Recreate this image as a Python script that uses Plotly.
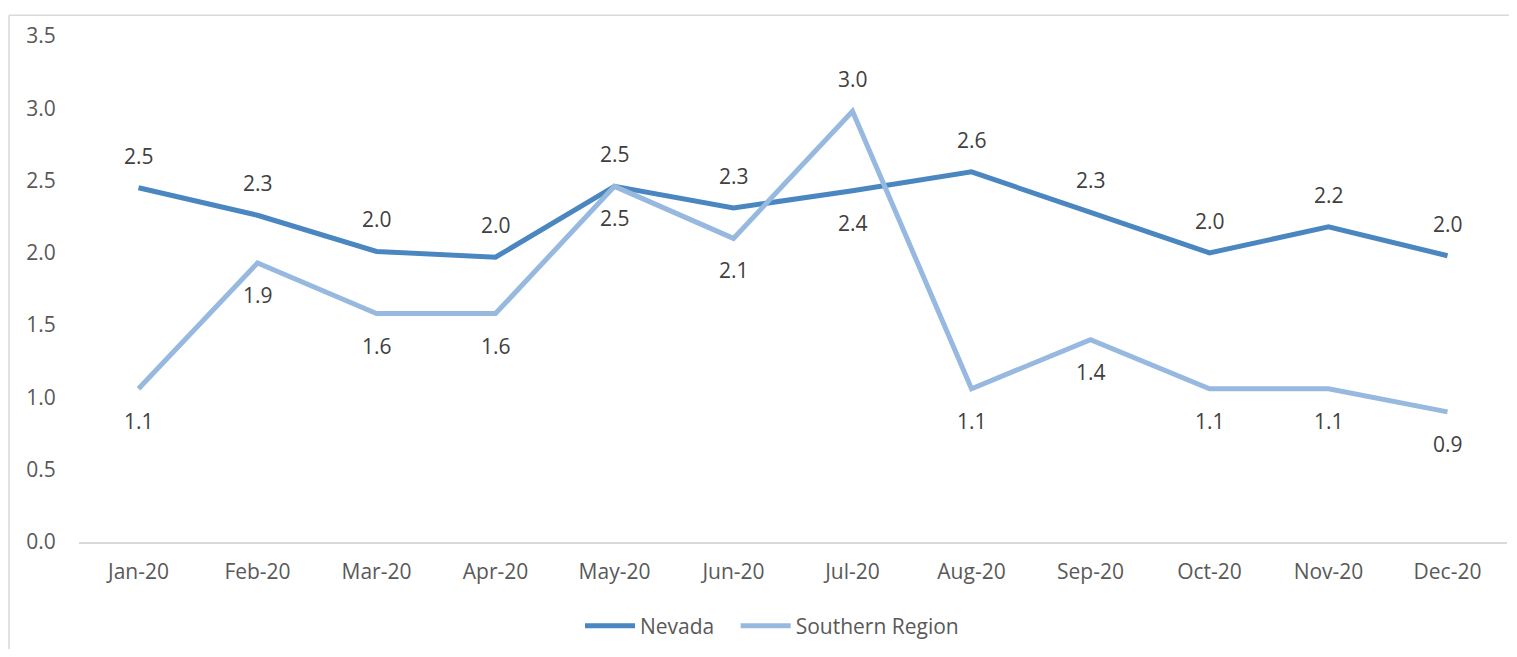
import plotly.graph_objects as go

months = ["Jan-20", "Feb-20", "Mar-20", "Apr-20", "May-20", "Jun-20",
          "Jul-20", "Aug-20", "Sep-20", "Oct-20", "Nov-20", "Dec-20"]
nevada = [2.45, 2.26, 2.01, 1.97, 2.46, 2.31, 2.43, 2.56, 2.28, 2.00, 2.18, 1.98]
southern = [1.06, 1.93, 1.58, 1.58, 2.46, 2.10, 2.98, 1.06, 1.40, 1.06, 1.06, 0.90]
y_ticks = [0.0, 0.5, 1.0, 1.5, 2.0, 2.5, 3.0, 3.5]

# label placement: +1 above point, -1 below point
nevada_label_side = [1, 1, 1, 1, 1, 1, -1, 1, 1, 1, 1, 1]
southern_label_side = [-1, -1, -1, -1, -1, -1, 1, -1, -1, -1, -1, -1]

NEVADA_COLOR = "#4A86BF"
SOUTH_COLOR = "#97B9E0"
FONT = "Open Sans"
FS = 21

# page has an 8px body margin; figure is sized so the plot area sits at
# page x 79..1499, y 36..540 without overflowing the window
W, H = 1501, 641
L, R, T, B = 71, 2, 28, 101
PW = W - L - R
PH = H - T - B

fig = go.Figure()
fig.add_trace(go.Scatter(x=months, y=nevada, mode="lines", name="Nevada\u00a0\u00a0\u00a0",
                         line=dict(color=NEVADA_COLOR, width=5)))
fig.add_trace(go.Scatter(x=months, y=southern, mode="lines", name="Southern Region",
                         line=dict(color=SOUTH_COLOR, width=5)))

annotations = []
for vals, sides in ((nevada, nevada_label_side), (southern, southern_label_side)):
    for m, v, s in zip(months, vals, sides):
        annotations.append(dict(x=m, y=v, xref="x", yref="y", text=f"{v:.1f}",
                                showarrow=False, yshift=32 * s,
                                font=dict(family=FONT, size=FS, color="#404040")))

bx0 = (1 - L) / PW
by1 = (540 - 7) / PH
border = dict(color="#D9D9D9", width=1.5)
fig.update_layout(
    width=W, height=H,
    margin=dict(l=L, r=R, t=T, b=B),
    paper_bgcolor="white", plot_bgcolor="white",
    font=dict(family=FONT, size=FS, color="#595959"),
    showlegend=True,
    legend=dict(orientation="h", x=(772 - 79) / PW, xanchor="center",
                y=(540 - 625) / PH, yanchor="middle",
                font=dict(family=FONT, size=FS, color="#595959"),
                itemwidth=50),
    annotations=annotations,
    hovermode=False,
    shapes=[
        dict(type="line", xref="paper", yref="paper", x0=bx0, x1=1.2, y0=by1, y1=by1,
             line=border, layer="below"),
        dict(type="line", xref="paper", yref="paper", x0=bx0, x1=bx0, y0=-0.5, y1=by1,
             line=border, layer="below"),
    ],
)
fig.update_xaxes(type="category", range=[-0.5, 11.5], showgrid=False,
                 showline=True, linecolor="#D9D9D9", linewidth=1.5,
                 ticks="outside", ticklen=10, tickcolor="rgba(0,0,0,0)",
                 tickfont=dict(family=FONT, size=FS, color="#595959"))
fig.update_yaxes(range=[0, 3.5], tickvals=y_ticks, ticktext=[f"{t:.1f}" for t in y_ticks],
                 showgrid=False, zeroline=False, showline=False,
                 ticks="outside", ticklen=18, tickcolor="rgba(0,0,0,0)",
                 tickfont=dict(family=FONT, size=FS, color="#595959"))

fig.write_html("out.html")
